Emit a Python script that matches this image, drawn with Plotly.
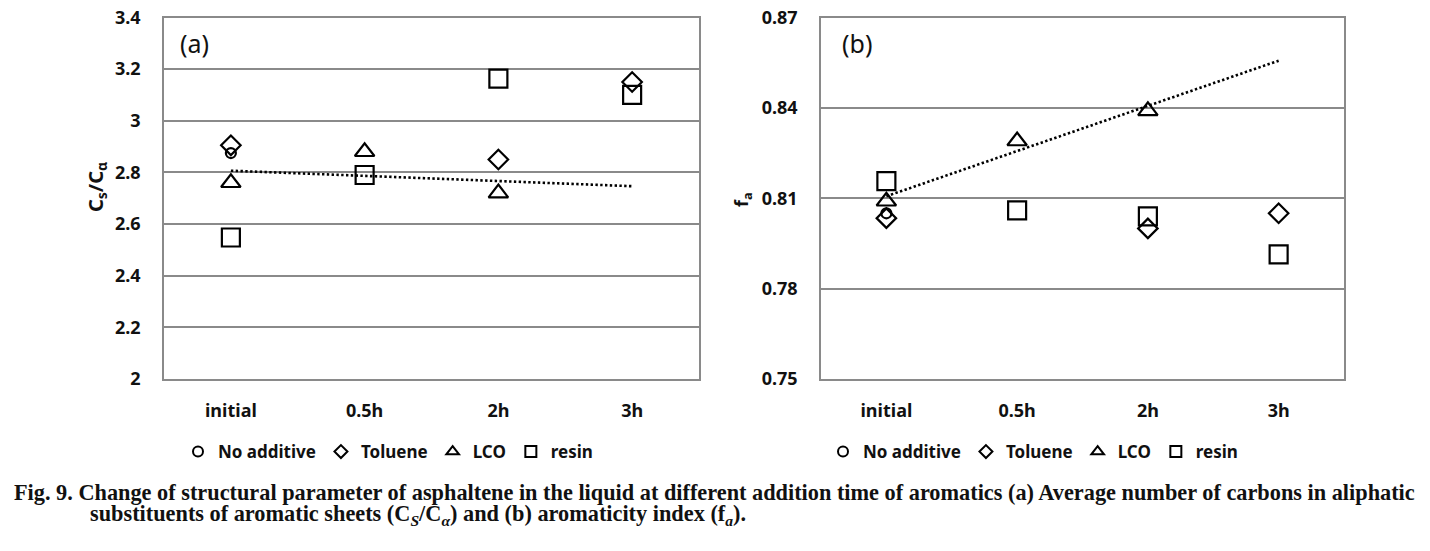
import numpy as np
import plotly.graph_objects as go

# ---------------- data ----------------
categories = ["initial", "0.5h", "2h", "3h"]

a_no_additive = [2.875, None, None, None]
a_toluene = [2.905, None, 2.85, 3.15]
a_lco = [2.76, 2.88, 2.72, None]
a_resin = [2.548, 2.79, 3.163, 3.10]

b_no_additive = [0.805, None, None, None]
b_toluene = [0.8034, None, 0.800, 0.805]
b_lco = [0.809, 0.829, 0.839, None]
b_resin = [0.8157, 0.806, 0.804, 0.7914]

series_names = ["No additive", "Toluene", "LCO", "resin"]

a_tickvals = [2, 2.2, 2.4, 2.6, 2.8, 3, 3.2, 3.4]
a_ticktext = ["2", "2.2", "2.4", "2.6", "2.8", "3", "3.2", "3.4"]
b_tickvals = [0.75, 0.78, 0.81, 0.84, 0.87]
b_ticktext = ["0.75", "0.78", "0.81", "0.84", "0.87"]

# ---------------- style ----------------
W, H = 1430, 551
symbols = ["circle-open", "diamond-open", "triangle-up-open", "square-open"]
sizes = [10, 15, 17, 18]
legend_sizes = [10, 10, 11, 11]
GRID = "#8a8a8a"
TICKFONT = dict(family="Noto Sans", size=18, color="#111111", weight="bold")


def px_x(p):
    return p / W


def px_y(p):
    return 1 - p / H


def trend(vals):
    idx = [i for i, v in enumerate(vals) if v is not None]
    ys = [vals[i] for i in idx]
    k, c = np.polyfit(idx, ys, 1)
    return [c + k * 0, c + k * (len(categories) - 1)]


fig = go.Figure()

panels = [
    ("x", "y", "legend", [a_no_additive, a_toluene, a_lco, a_resin]),
    ("x2", "y2", "legend2", [b_no_additive, b_toluene, b_lco, b_resin]),
]

for xa, ya, leg, data in panels:
    for name, sym, sz, vals in zip(series_names, symbols, sizes, data):
        fig.add_trace(go.Scatter(
            x=categories, y=vals, mode="markers", name=name,
            xaxis=xa, yaxis=ya, showlegend=False, cliponaxis=False,
            marker=dict(symbol=sym, size=sz, color="black",
                        line=dict(width=2.2, color="black")),
        ))
    # linear trendline of LCO series
    ty = trend(data[2])
    fig.add_trace(go.Scatter(
        x=[categories[0], categories[-1]], y=ty, mode="lines",
        xaxis=xa, yaxis=ya, showlegend=False, hoverinfo="skip",
        line=dict(color="black", width=2.6, dash="2.4px,2.4px"),
    ))
    # legend entries
    for name, sym, sz in zip(series_names, symbols, legend_sizes):
        fig.add_trace(go.Scatter(
            x=[None], y=[None], mode="markers", name=name,
            xaxis=xa, yaxis=ya, legend=leg, showlegend=True,
            marker=dict(symbol=sym, size=sz, color="black",
                        line=dict(width=2, color="black")),
        ))

ydom = [px_y(379), px_y(17.5)]

xcommon = dict(
    type="category", categoryorder="array", categoryarray=categories,
    range=[-0.5, 3.5], showgrid=False, zeroline=False,
    showline=True, mirror=True, linecolor=GRID, linewidth=1.5,
    ticks="", tickfont=TICKFONT, ticklabelstandoff=15, fixedrange=True,
    automargin=False,
)
ycommon = dict(
    showgrid=True, gridcolor=GRID, gridwidth=1.5, zeroline=False,
    showline=True, mirror=True, linecolor=GRID, linewidth=1.5,
    ticks="", tickfont=TICKFONT, ticklabelstandoff=18, fixedrange=True,
    automargin=False,
)

legend_common = dict(
    orientation="h", y=px_y(452), yanchor="middle", bgcolor="rgba(0,0,0,0)",
    font=dict(family="Noto Sans", size=17, color="#111111", weight="bold"),
    itemsizing="trace", tracegroupgap=0,
)

fig.update_layout(
    width=W, height=H,
    margin=dict(l=0, r=0, t=0, b=0, pad=0, autoexpand=False),
    paper_bgcolor="white", plot_bgcolor="white",
    xaxis=dict(domain=[px_x(164), px_x(699)], anchor="y", **xcommon),
    yaxis=dict(domain=ydom, anchor="x", range=[2, 3.4],
               tickvals=a_tickvals, ticktext=a_ticktext, **ycommon),
    xaxis2=dict(domain=[px_x(821), px_x(1344)], anchor="y2", **xcommon),
    yaxis2=dict(domain=ydom, anchor="x2", range=[0.75, 0.87],
                tickvals=b_tickvals, ticktext=b_ticktext, **ycommon),
    legend=dict(x=px_x(388), xanchor="center", **legend_common),
    legend2=dict(x=px_x(1033), xanchor="center", **legend_common),
    showlegend=True,
)

annotations = [
    dict(text="(a)", x=px_x(194), y=px_y(43), xanchor="center", yanchor="middle",
         font=dict(family="Noto Sans", size=25, color="#111111")),
    dict(text="(b)", x=px_x(857), y=px_y(43), xanchor="center", yanchor="middle",
         font=dict(family="Noto Sans", size=25, color="#111111")),
    dict(text="C<sub>s</sub>/C<sub>α</sub>", x=px_x(96), y=px_y(187),
         textangle=-90, xanchor="center", yanchor="middle",
         font=dict(family="Noto Sans", size=20, color="#111111", weight="bold")),
    dict(text="f<sub>a</sub>", x=px_x(742), y=px_y(200),
         textangle=-90, xanchor="center", yanchor="middle",
         font=dict(family="Noto Sans", size=18, color="#111111", weight="bold")),
    dict(text="Fig. 9. Change of structural parameter of asphaltene in the liquid at different addition time of aromatics (a) Average number of carbons in aliphatic",
         x=px_x(12), y=px_y(492), xanchor="left", yanchor="middle",
         font=dict(family="Liberation Serif", size=22.3, color="#111111", weight="bold")),
    dict(text="substituents of aromatic sheets (C<sub><i>S</i></sub>/C<sub><i>α</i></sub>) and (b) aromaticity index (f<sub><i>a</i></sub>).",
         x=px_x(88), y=px_y(515), xanchor="left", yanchor="middle",
         font=dict(family="Liberation Serif", size=22.3, color="#111111", weight="bold")),
]
for a in annotations:
    a.update(xref="paper", yref="paper", showarrow=False)
fig.update_layout(annotations=annotations)

fig.write_html(
    "out.html",
    config={"displayModeBar": False},
    post_script="document.body.style.margin='0';document.body.style.overflow='hidden';",
)
